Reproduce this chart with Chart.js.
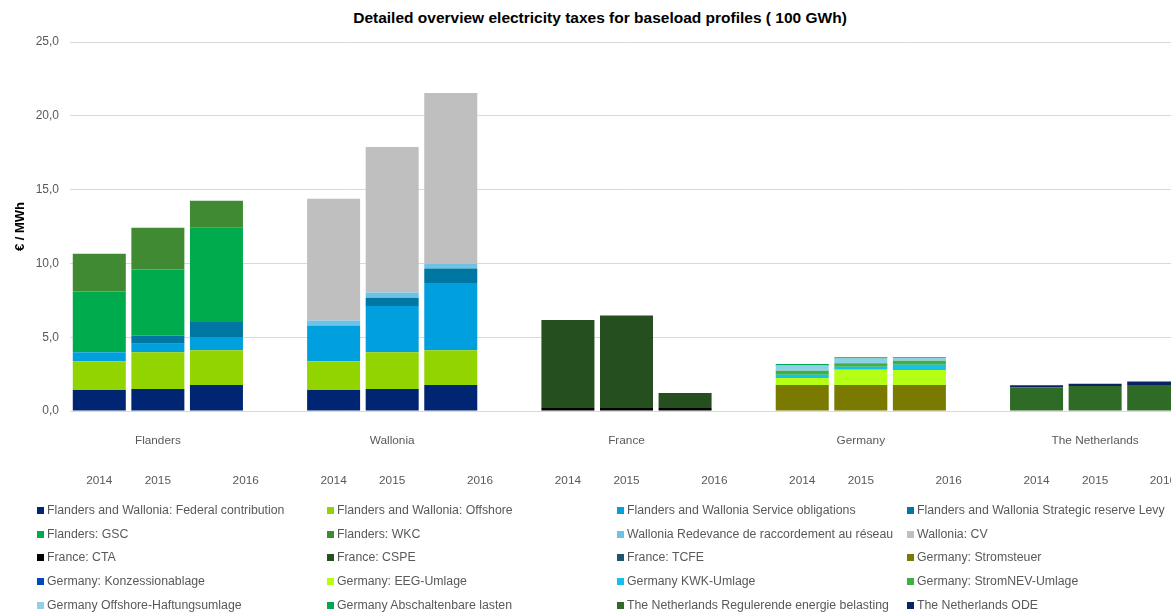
<!DOCTYPE html>
<html>
<head>
<meta charset="utf-8">
<script src="https://cdn.jsdelivr.net/npm/chart.js@4.4.1/dist/chart.umd.min.js"></script>
<style>
  body { margin: 0; width: 1171px; height: 614px; overflow: hidden; background: #fff; position: relative; font-family: 'Liberation Sans', Arial, sans-serif; }
  #title { position: absolute; top: 9px; left: 0; width: 1200px; text-align: center; font-weight: bold; font-size: 15.5px; color: #000; white-space: nowrap; }
  #wrap { position: absolute; left: 0; top: 0; width: 1200px; height: 500px; }
  #legend { position: absolute; left: 37px; top: 499px; display: grid; grid-template-columns: 290px 290px 290px 290px; font-size: 12.3px; color: #595959; line-height: 23.7px; }
  #legend span.box { display: inline-block; width: 7px; height: 7px; margin-right: 3px; vertical-align: 0px; }
  #legend div { white-space: nowrap; }
</style>
</head>
<body>
<div id="title">Detailed overview electricity taxes for baseload profiles ( 100 GWh)</div>
<div id="wrap"><canvas id="taxChart"></canvas></div>
<div id="legend"></div>
<script>
// countries and years on the x axis
const countries = ['Flanders', 'Wallonia', 'France', 'Germany', 'The Netherlands'];
const years = ['2014', '2015', '2016'];

// values in EUR/MWh, order: Fl14 Fl15 Fl16 | Wa14 Wa15 Wa16 | Fr14 Fr15 Fr16 | De14 De15 De16 | NL14 NL15 NL16
const federal      = [1.42, 1.49, 1.76,  1.42, 1.49, 1.76,  0, 0, 0,  0, 0, 0,  0, 0, 0];
const offshore     = [1.95, 2.49, 2.35,  1.95, 2.49, 2.36,  0, 0, 0,  0, 0, 0,  0, 0, 0];
const serviceObl   = [0.61, 0.58, 0.91,  2.42, 3.14, 4.56,  0, 0, 0,  0, 0, 0,  0, 0, 0];
const strategic    = [0, 0.55, 1.01,     0, 0.55, 0.97,     0, 0, 0,  0, 0, 0,  0, 0, 0];
const gsc          = [4.11, 4.47, 6.38,  0, 0, 0,  0, 0, 0,  0, 0, 0,  0, 0, 0];
const wkc          = [2.56, 2.83, 1.83,  0, 0, 0,  0, 0, 0,  0, 0, 0,  0, 0, 0];
const redevance    = [0, 0, 0,  0.34, 0.36, 0.32,  0, 0, 0,  0, 0, 0,  0, 0, 0];
const cv           = [0, 0, 0,  8.25, 9.85, 11.58, 0, 0, 0,  0, 0, 0,  0, 0, 0];
const cta          = [0, 0, 0,  0, 0, 0,  0.2, 0.2, 0.2,    0, 0, 0,  0, 0, 0];
const cspe         = [0, 0, 0,  0, 0, 0,  5.97, 6.27, 1.02, 0, 0, 0,  0, 0, 0];
const tcfe         = [0, 0, 0,  0, 0, 0,  0, 0, 0,  0, 0, 0,  0, 0, 0];
const stromsteuer  = [0, 0, 0,  0, 0, 0,  0, 0, 0,  1.76, 1.76, 1.76,  0, 0, 0];
const konzession   = [0, 0, 0,  0, 0, 0,  0, 0, 0,  0, 0, 0,  0, 0, 0];
const eeg          = [0, 0, 0,  0, 0, 0,  0, 0, 0,  0.48, 1.04, 1.02,  0, 0, 0];
const kwk          = [0, 0, 0,  0, 0, 0,  0, 0, 0,  0.22, 0.20, 0.36,  0, 0, 0];
const stromnev     = [0, 0, 0,  0, 0, 0,  0, 0, 0,  0.27, 0.23, 0.27,  0, 0, 0];
const offshoreHaft = [0, 0, 0,  0, 0, 0,  0, 0, 0,  0.35, 0.33, 0.18,  0, 0, 0];
const abschalt     = [0, 0, 0,  0, 0, 0,  0, 0, 0,  0.11, 0.08, 0.05,  0, 0, 0];
const nlReb        = [0, 0, 0,  0, 0, 0,  0, 0, 0,  0, 0, 0,  1.60, 1.70, 1.76];
const nlOde        = [0, 0, 0,  0, 0, 0,  0, 0, 0,  0, 0, 0,  0.14, 0.15, 0.24];

const yTicks = [0, 5, 10, 15, 20, 25];

const series = [
    ['Flanders and Wallonia: Federal contribution', federal, '#002673'],
    ['Flanders and Wallonia: Offshore', offshore, '#92d400'],
    ['Flanders and Wallonia Service obligations', serviceObl, '#00a0df'],
    ['Flanders and Wallonia Strategic reserve Levy', strategic, '#0076a3'],
    ['Flanders: GSC', gsc, '#00ab4e'],
    ['Flanders: WKC', wkc, '#3f8a33'],
    ['Wallonia Redevance de raccordement au réseau', redevance, '#6cc3e5'],
    ['Wallonia: CV', cv, '#bfbfbf'],
    ['France: CTA', cta, '#000000'],
    ['France: CSPE', cspe, '#254f1e'],
    ['France: TCFE', tcfe, '#1b566b'],
    ['Germany: Stromsteuer', stromsteuer, '#7a7a00'],
    ['Germany: Konzessionablage', konzession, '#0047bb'],
    ['Germany: EEG-Umlage', eeg, '#b5ff14'],
    ['Germany KWK-Umlage', kwk, '#14c0f0'],
    ['Germany: StromNEV-Umlage', stromnev, '#40b040'],
    ['Germany Offshore-Haftungsumlage', offshoreHaft, '#8ed0ea'],
    ['Germany Abschaltenbare lasten', abschalt, '#00a651'],
    ['The Netherlands Regulerende energie belasting', nlReb, '#2e6b26'],
    ['The Netherlands ODE', nlOde, '#0a2463']
];

// x slots: 3 years per country with one empty slot between countries
const labels = [];
const slotOf = [];
countries.forEach(function (c, ci) {
    years.forEach(function (y) {
        slotOf.push(labels.length);
        labels.push(c + ' ' + y);
    });
    if (ci < countries.length - 1) labels.push('');
});

function toSlots(values) {
    const out = labels.map(function () { return null; });
    values.forEach(function (v, i) { out[slotOf[i]] = v; });
    return out;
}

const datasets = series.map(function (s) {
    return {
        label: s[0],
        data: toSlots(s[1]),
        backgroundColor: s[2],
        borderWidth: 0,
        barPercentage: 0.905,
        categoryPercentage: 1.0
    };
});

const axisLabels = {
    id: 'axisLabels',
    afterDraw: function (chart) {
        const ctx = chart.ctx;
        const x = chart.scales.x;
        const step = x.getPixelForValue(1) - x.getPixelForValue(0);
        ctx.save();
        ctx.fillStyle = '#595959';
        ctx.font = "11.8px 'Liberation Sans', Arial, sans-serif";
        ctx.textAlign = 'center';
        ctx.textBaseline = 'middle';
        countries.forEach(function (c, ci) {
            const first = slotOf[ci * 3];
            ctx.fillText(c, x.getPixelForValue(first + 1), 441);
            years.forEach(function (y, yi) {
                let px = x.getPixelForValue(first + yi);
                if (yi === 2) px += step / 2;
                const w = ctx.measureText(y).width;
                if (px + w / 2 > 1176) px = 1176 - w / 2;
                ctx.fillText(y, px, 481);
            });
        });
        ctx.restore();
    }
};

const ctx = document.getElementById('taxChart').getContext('2d');
const chart = new Chart(ctx, {
    type: 'bar',
    data: { labels: labels, datasets: datasets },
    plugins: [axisLabels],
    options: {
        responsive: true,
        maintainAspectRatio: false,
        animation: false,
        layout: { padding: { top: 42, right: 17, bottom: 89, left: 0 } },
        plugins: {
            legend: { display: false },
            tooltip: { enabled: false },
            title: { display: false }
        },
        scales: {
            x: {
                stacked: true,
                ticks: { display: false },
                grid: { display: false },
                border: { color: '#d9d9d9' },
                afterFit: function (scale) { scale.height = 0; }
            },
            y: {
                stacked: true,
                min: 0,
                max: 25,
                afterBuildTicks: function (scale) {
                    scale.ticks = yTicks.map(function (v) { return { value: v }; });
                },
                ticks: {
                    color: '#595959',
                    padding: 11,
                    font: { family: "'Liberation Sans', Arial, sans-serif", size: 12 },
                    callback: function (v) { return v.toFixed(1).replace('.', ','); }
                },
                grid: { color: '#d9d9d9', drawTicks: false },
                border: { display: false },
                title: {
                    display: true,
                    text: '€ / MWh',
                    color: '#000',
                    font: { family: "'Liberation Sans', Arial, sans-serif", size: 13, weight: 'bold' },
                    padding: { top: 13, bottom: 0 }
                },
                afterFit: function (scale) { scale.width = 70; }
            }
        }
    }
});

// legend laid out in four columns like the original
const legendEl = document.getElementById('legend');
datasets.forEach(function (d) {
    const item = document.createElement('div');
    const box = document.createElement('span');
    box.className = 'box';
    box.style.background = d.backgroundColor;
    item.appendChild(box);
    item.appendChild(document.createTextNode(d.label));
    legendEl.appendChild(item);
});
</script>
</body>
</html>
